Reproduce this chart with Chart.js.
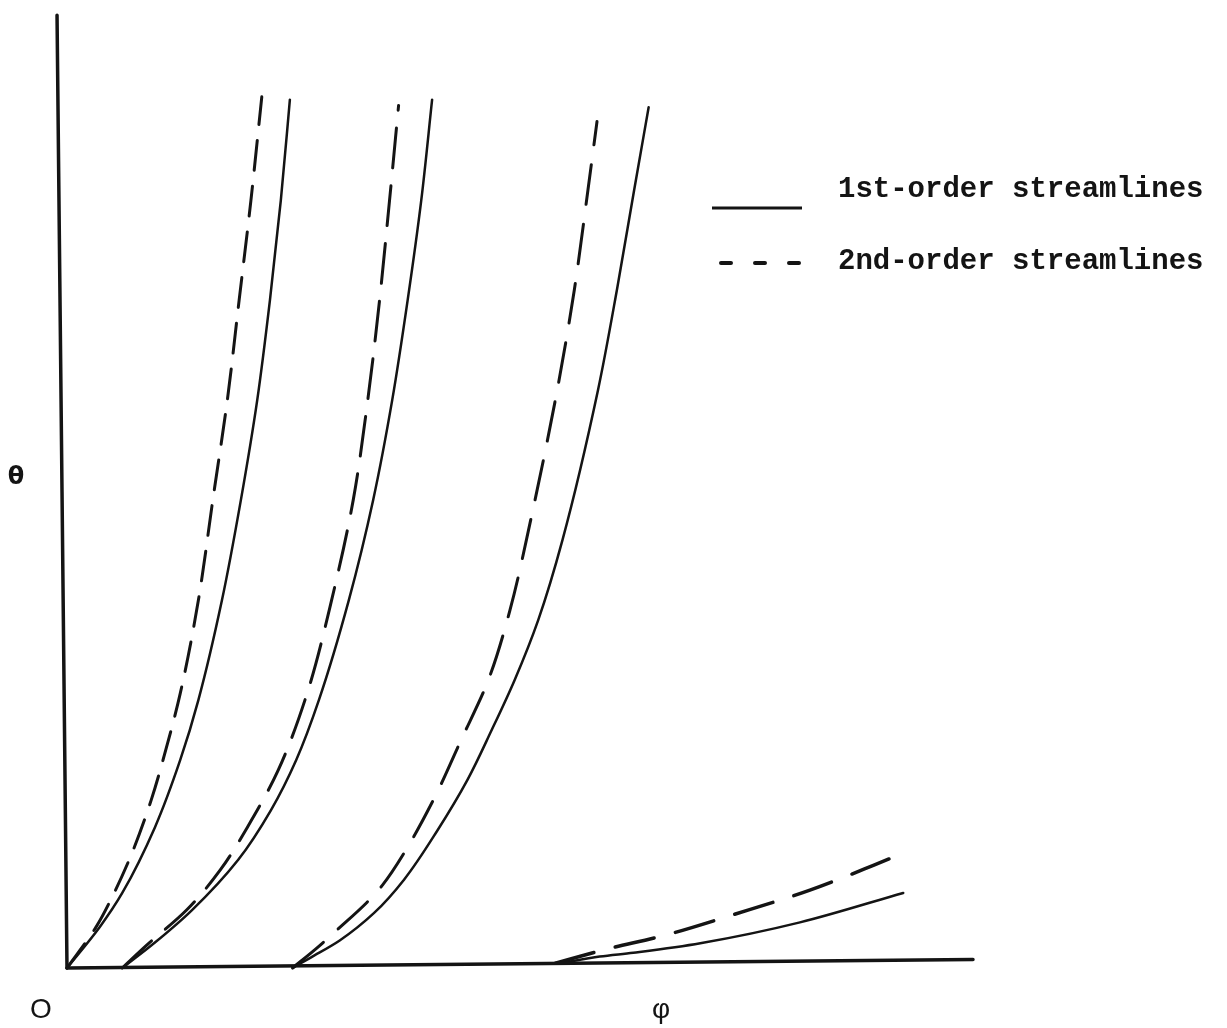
<!DOCTYPE html>
<html>
<head>
<meta charset="utf-8">
<title>Streamlines</title>
<script src="https://cdn.jsdelivr.net/npm/chart.js@4.4.0/dist/chart.umd.min.js"></script>
<style>
    html, body { margin: 0; padding: 0; background: #fff; }
    #wrap { position: relative; width: 1227px; height: 1028px; }
</style>
</head>
<body>
<div id="wrap"><canvas id="streamChart"></canvas></div>
<script>
// Streamline data, as [phi, theta] pairs
const firstOrderA = [[0, 0], [0.36, 0.43], [0.61, 0.79], [0.97, 1.48], [1.25, 2.19], [1.45, 2.82], [1.71, 3.87], [1.92, 4.93], [2.10, 5.98], [2.24, 7.03], [2.36, 8.08], [2.46, 9.14]];
const secondOrderA = [[0, 0], [0.32, 0.43], [0.52, 0.79], [0.73, 1.24], [0.93, 1.77], [1.06, 2.19], [1.25, 2.89], [1.45, 3.87], [1.61, 4.93], [1.77, 5.98], [1.90, 7.03], [2.03, 8.08], [2.15, 9.17]];

const firstOrderB = [[0.61, 0], [0.96, 0.26], [1.38, 0.61], [1.89, 1.14], [2.25, 1.66], [2.53, 2.19], [2.78, 2.82], [3.11, 3.87], [3.38, 4.93], [3.59, 5.98], [3.76, 7.03], [3.91, 8.08], [4.03, 9.14]];
const secondOrderB = [[0.61, 0], [0.88, 0.24], [1.32, 0.61], [1.69, 1.03], [1.99, 1.48], [2.33, 2.08], [2.65, 2.89], [2.92, 3.87], [3.16, 4.93], [3.32, 5.98], [3.45, 7.03], [3.56, 8.08], [3.66, 9.08]];

const firstOrderC = [[2.49, 0], [2.69, 0.11], [3.01, 0.29], [3.39, 0.58], [3.72, 0.93], [4.09, 1.45], [4.42, 1.98], [4.69, 2.51], [4.94, 3.03], [5.20, 3.66], [5.47, 4.51], [5.86, 6.08], [6.07, 7.14], [6.26, 8.19], [6.42, 9.06]];
const secondOrderC = [[2.49, 0], [2.77, 0.22], [2.98, 0.40], [3.31, 0.69], [3.48, 0.87], [3.72, 1.21], [4.06, 1.80], [4.35, 2.40], [4.65, 3.03], [4.89, 3.77], [5.11, 4.68], [5.41, 6.08], [5.60, 7.14], [5.75, 8.19], [5.85, 8.91]];

const firstOrderD = [[5.44, 0.05], [5.88, 0.12], [6.25, 0.16], [6.99, 0.26], [8.09, 0.48], [9.23, 0.79]];
const secondOrderD = [[5.39, 0.05], [5.92, 0.19], [6.62, 0.35], [7.35, 0.56], [8.20, 0.82], [8.90, 1.08], [9.28, 1.23]];

// Axis lines (slightly skewed, as in the original drawing)
const phiAxis = [[0, 0], [10, 0.09]];
const thetaAxis = [[0, 0], [-0.11, 10.03]];

const legendLabels = ['1st-order streamlines', '2nd-order streamlines'];
const axisLabels = { origin: 'O', phi: 'φ', theta: 'θ' };

const INK = '#141414';

function toPoints(pairs) {
    return pairs.map(p => ({ x: p[0], y: p[1] }));
}

// steep curves are smoothed along theta, the flat one along phi
function lineSet(pairs, width, dash, alongAxis) {
    return {
        data: toPoints(pairs),
        indexAxis: alongAxis || 'y',
        borderColor: INK,
        borderWidth: width,
        borderDash: dash || [],
        borderCapStyle: 'round',
        pointRadius: 0,
        cubicInterpolationMode: 'monotone',
        fill: false,
        clip: false
    };
}

// Draws the legend and the axis letters on top of the chart
const annotations = {
    id: 'annotations',
    afterDraw(chart) {
        const ctx = chart.ctx;
        ctx.save();
        ctx.fillStyle = INK;
        ctx.strokeStyle = INK;
        ctx.textBaseline = 'middle';

        // legend samples
        ctx.lineWidth = 3;
        ctx.setLineDash([]);
        ctx.beginPath();
        ctx.moveTo(712, 208);
        ctx.lineTo(802, 208);
        ctx.stroke();

        ctx.lineWidth = 4;
        ctx.lineCap = 'round';
        ctx.setLineDash([10, 24]);
        ctx.beginPath();
        ctx.moveTo(721, 263);
        ctx.lineTo(800, 263);
        ctx.stroke();
        ctx.setLineDash([]);

        ctx.font = 'bold 29px "Liberation Mono", "DejaVu Sans Mono", monospace';
        ctx.textAlign = 'left';
        ctx.fillText(legendLabels[0], 838, 190);
        ctx.fillText(legendLabels[1], 838, 262);

        // axis letters
        ctx.textAlign = 'center';
        ctx.font = '28px "Liberation Sans", "DejaVu Sans", sans-serif';
        ctx.fillText(axisLabels.origin, 41, 1010);
        ctx.fillText(axisLabels.phi, 661, 1010);
        ctx.font = 'bold 24px "DejaVu Sans", sans-serif';
        ctx.fillText(axisLabels.theta, 16, 478);
        ctx.restore();
    }
};

class StreamlineChart {
    constructor(canvasId) {
        this.canvas = document.getElementById(canvasId);
        this.chart = null;
        this.init();
    }

    init() {
        this.chart = new Chart(this.canvas.getContext('2d'), {
            type: 'line',
            data: { datasets: this.buildDatasets() },
            options: this.getOptions(),
            plugins: [annotations]
        });
    }

    buildDatasets() {
        return [
            lineSet(phiAxis, 3.5, null, 'x'),
            lineSet(thetaAxis, 3.5),
            lineSet(firstOrderA, 2.5),
            lineSet(secondOrderA, 3, [30, 16]),
            lineSet(firstOrderB, 2.5),
            lineSet(secondOrderB, 3, [40, 18]),
            lineSet(firstOrderC, 2.5),
            lineSet(secondOrderC, 3, [40, 20]),
            lineSet(firstOrderD, 2.5, null, 'x'),
            lineSet(secondOrderD, 3.5, [40, 22], 'x')
        ];
    }

    getOptions() {
        return {
            responsive: true,
            maintainAspectRatio: false,
            animation: false,
            layout: { padding: { left: 67, right: 254, top: 18, bottom: 60 } },
            plugins: {
                legend: { display: false },
                tooltip: { enabled: false }
            },
            scales: {
                x: { type: 'linear', min: 0, max: 10, display: false },
                y: { type: 'linear', min: 0, max: 10, display: false }
            }
        };
    }
}

new StreamlineChart('streamChart');
</script>
</body>
</html>
